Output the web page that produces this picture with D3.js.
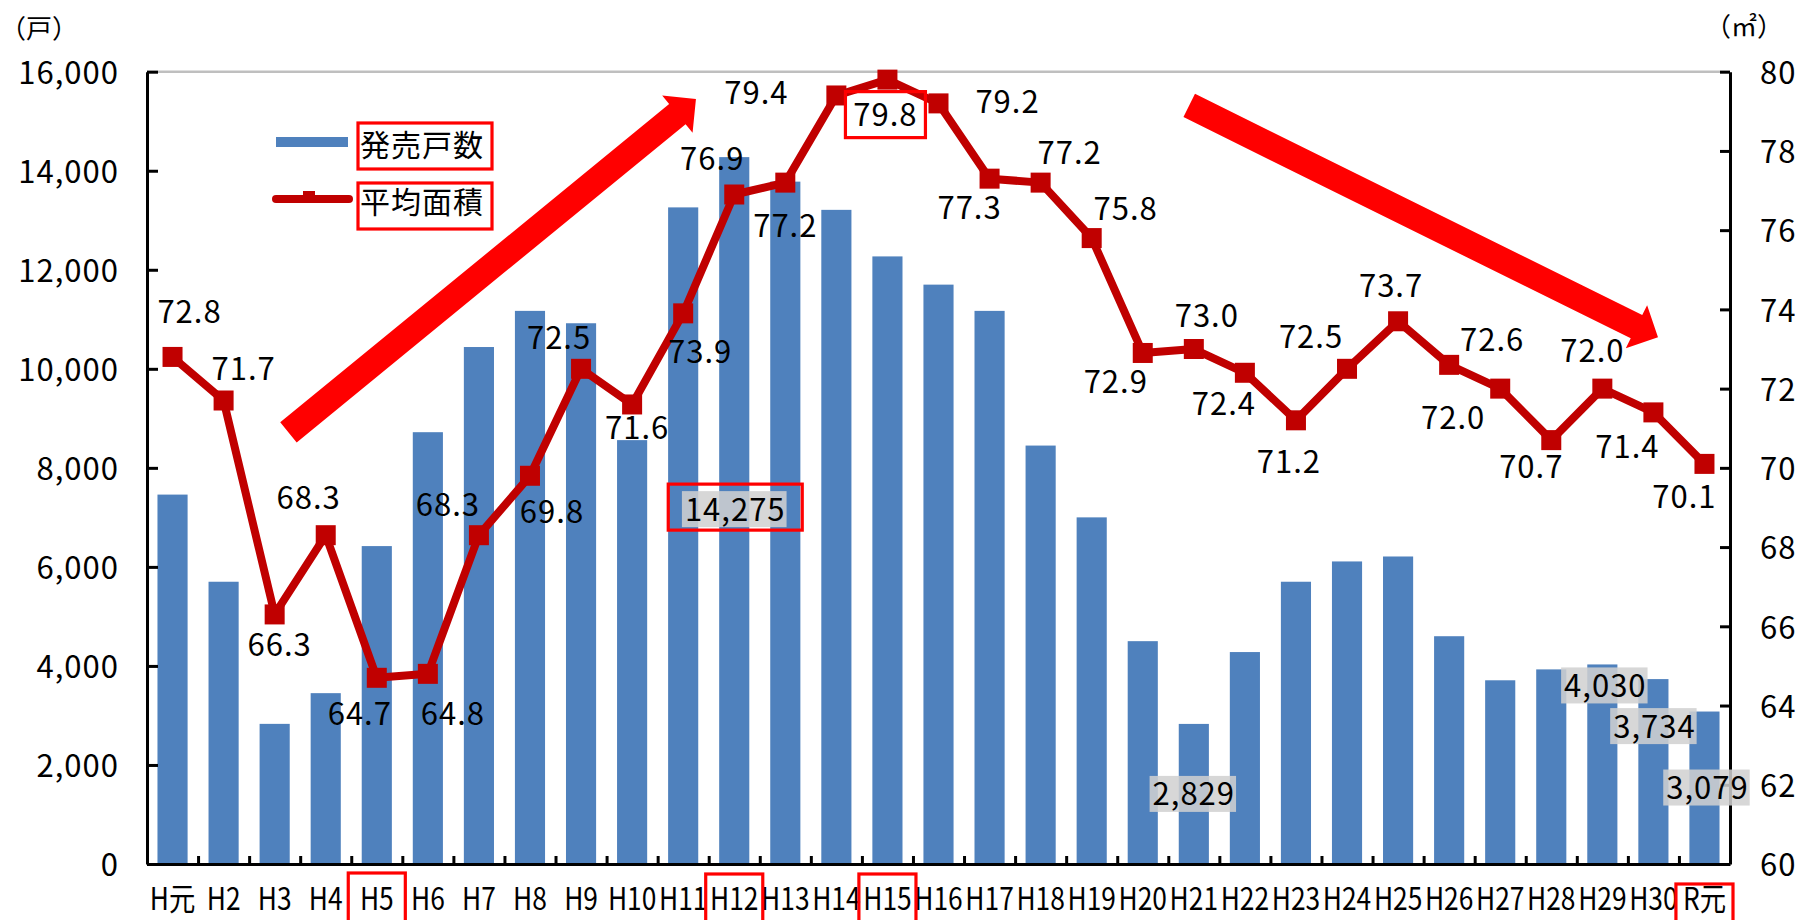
<!DOCTYPE html>
<html lang="ja">
<head>
<meta charset="utf-8">
<script src="https://cdn.jsdelivr.net/npm/d3@7"></script>
<style>
html, body { margin: 0; padding: 0; background: #fff; }
svg { display: block; font-family: "Noto Sans CJK JP", "Noto Sans", sans-serif; }
</style>
</head>
<body>
<svg id="chart" width="1809" height="920"></svg>
<script>
// ---- data -------------------------------------------------------------
const categories = ["H元","H2","H3","H4","H5","H6","H7","H8","H9","H10",
  "H11","H12","H13","H14","H15","H16","H17","H18","H19","H20",
  "H21","H22","H23","H24","H25","H26","H27","H28","H29","H30","R元"];

// 発売戸数 (戸)
const unitsSold = [7460, 5700, 2830, 3450, 6420, 8720, 10440, 11170, 10920, 8560,
  13260, 14275, 13780, 13210, 12270, 11700, 11170, 8450, 7000, 4500,
  2829, 4280, 5700, 6110, 6210, 4600, 3710, 3930, 4030, 3734, 3079];

// 平均面積 (㎡)
const avgArea = [72.8, 71.7, 66.3, 68.3, 64.7, 64.8, 68.3, 69.8, 72.5, 71.6,
  73.9, 76.9, 77.2, 79.4, 79.8, 79.2, 77.3, 77.2, 75.8, 72.9,
  73.0, 72.4, 71.2, 72.5, 73.7, 72.6, 72.0, 70.7, 72.0, 71.4, 70.1];

const countTicks = d3.range(0, 16001, 2000);
const areaTicks = d3.range(60, 81, 2);

const seriesNames = ["発売戸数", "平均面積"];

// ---- layout -----------------------------------------------------------
const W = 1809, H = 920;
const plot = { left: 147, right: 1730, top: 71.7, bottom: 864 };
const FONT = 31;
const COL = { bar: "#4f81bd", line: "#c00000", mark: "#ff0000", axis: "#000", grid: "#bfbfbf" };

// label offsets (px) from each area point to its label centre
const areaLabelOffsets = [
  [17,-45],[20,-32],[5,30],[-17,-38],[-17,36],[25,40],[-31,-31],[22,36],[-22,-31],[5,23],
  [17,38],[-22,-36],[0,43],[-80,-3],[-2,35],[69,-2],[-20,29],[29,-30],[34,-30],[-27,29],
  [13,-34],[-21,31],[-7,41],[-36,-32],[-7,-36],[43,-25],[-47,29],[-20,26],[-10,-38],[-26,34],[-20,33]
];

// bar value callouts: label centre sits `drop` px below the bar top
const barCallouts = [
  { cat: "H12", drop: 352, dx: 1, boxed: true },
  { cat: "H21", drop: 70,  dx: 0 },
  { cat: "H29", drop: 21,  dx: 3 },
  { cat: "H30", drop: 47,  dx: 1 },
  { cat: "R元", drop: 76,  dx: 3 }
];

// highlighted axis years (box top in px)
const highlightYears = [
  { cat: "H5", top: 873 }, { cat: "H12", top: 874 }, { cat: "H15", top: 874 }, { cat: "R元", top: 884 }
];

// trend arrows, ends given as [category position, 戸 value]
const trendArrows = [
  { from: [2.77, 8717], to: [10.75, 15450] },
  { from: [20.41, 15318], to: [29.59, 10636] }
];

// ---- scales -----------------------------------------------------------
const svg = d3.select("#chart");
svg.append("rect").attr("width", W).attr("height", H).attr("fill", "#fff");

const x = d3.scaleBand().domain(categories)
  .range([plot.left, plot.right]).paddingInner(0.41).paddingOuter(0.205);
const xPos = d3.scaleLinear().domain([0, categories.length]).range([plot.left, plot.right]);
const yL = d3.scaleLinear().domain([0, 16000]).range([plot.bottom, plot.top]);
const yR = d3.scaleLinear().domain([60, 80]).range([plot.bottom, plot.top]);
const cx = c => x(c) + x.bandwidth() / 2;

// plot-area top border
svg.append("line")
  .attr("x1", plot.left).attr("x2", plot.right)
  .attr("y1", plot.top).attr("y2", plot.top)
  .attr("stroke", COL.grid).attr("stroke-width", 2.5);

// ---- bars -------------------------------------------------------------
svg.append("g").selectAll("rect").data(categories).join("rect")
  .attr("x", c => x(c))
  .attr("width", x.bandwidth())
  .attr("y", (c, i) => yL(unitsSold[i]))
  .attr("height", (c, i) => plot.bottom - yL(unitsSold[i]))
  .attr("fill", COL.bar);

// ---- axes -------------------------------------------------------------
function styleAxis(g, anchor) {
  g.attr("font-family", null).attr("font-size", null);
  g.selectAll("path.domain").attr("stroke", COL.axis).attr("stroke-width", 3);
  g.selectAll(".tick line").attr("stroke", COL.axis).attr("stroke-width", 3);
  g.selectAll(".tick text").attr("font-size", FONT).attr("fill", "#000")
    .attr("dy", "0.38em").attr("letter-spacing", 1);
  if (anchor) g.selectAll(".tick text").attr("text-anchor", anchor);
}

svg.append("g").attr("transform", `translate(0,${plot.bottom})`)
  .call(d3.axisBottom(xPos).tickValues(d3.range(1, categories.length))
    .tickSizeInner(-8).tickSizeOuter(0).tickFormat(""))
  .call(g => styleAxis(g));

svg.append("g").attr("transform", `translate(${plot.left},0)`)
  .call(d3.axisLeft(yL).tickValues(countTicks).tickFormat(d3.format(","))
    .tickSizeInner(-11).tickSizeOuter(0).tickPadding(28))
  .call(g => styleAxis(g, "end"));

svg.append("g").attr("transform", `translate(${plot.right},0)`)
  .call(d3.axisRight(yR).tickValues(areaTicks).tickFormat(d3.format("d"))
    .tickSizeInner(-10).tickSizeOuter(0).tickPadding(30))
  .call(g => styleAxis(g, "start"));

// category labels (narrowed to fit each slot)
const xLab = svg.append("g");
categories.forEach(c => {
  xLab.append("text")
    .attr("transform", `translate(${cx(c)},910) scale(0.85,1)`)
    .attr("text-anchor", "middle")
    .attr("font-size", FONT)
    .text(c);
});

// boxed years
svg.append("g").selectAll("rect").data(highlightYears).join("rect")
  .attr("x", d => cx(d.cat) - x.step() / 2 - 3)
  .attr("width", x.step() + 6)
  .attr("y", d => d.top)
  .attr("height", 80)
  .attr("fill", "none").attr("stroke", COL.mark).attr("stroke-width", 3.2);

// axis unit captions
svg.append("text").attr("x", 0).attr("y", 38).attr("font-size", 26).text("（戸）");
svg.append("text").attr("x", 1705).attr("y", 36).attr("font-size", 26).text("（㎡）");

// ---- bar value callouts ----------------------------------------------
const fmtCount = d3.format(",");
barCallouts.forEach(d => {
  const i = categories.indexOf(d.cat);
  const mx = cx(d.cat) + d.dx;
  const my = yL(unitsSold[i]) + d.drop;
  const t = svg.append("text")
    .attr("x", mx).attr("y", my + 11.5)
    .attr("text-anchor", "middle")
    .attr("font-size", FONT).attr("letter-spacing", 1)
    .text(fmtCount(unitsSold[i]));
  const bb = t.node().getBBox();
  svg.insert("rect", () => t.node())
    .attr("x", bb.x - 3).attr("width", bb.width + 4)
    .attr("y", my - 18).attr("height", 36)
    .attr("fill", "rgba(208,208,208,0.86)");
  if (d.boxed) {
    svg.append("rect")
      .attr("x", mx - 67).attr("width", 134)
      .attr("y", my - 25).attr("height", 46)
      .attr("fill", "none").attr("stroke", COL.mark).attr("stroke-width", 3.2);
  }
});

// ---- area line --------------------------------------------------------
const line = d3.line().x((v, i) => cx(categories[i])).y(v => yR(v));
svg.append("path").datum(avgArea)
  .attr("d", line)
  .attr("fill", "none").attr("stroke", COL.line)
  .attr("stroke-width", 8).attr("stroke-linejoin", "round");

const MS = 20;
svg.append("g").selectAll("rect").data(avgArea).join("rect")
  .attr("x", (v, i) => cx(categories[i]) - MS / 2)
  .attr("y", v => yR(v) - MS / 2)
  .attr("width", MS).attr("height", MS)
  .attr("fill", COL.line);

const areaLab = svg.append("g");
avgArea.forEach((v, i) => {
  const [dx, dy] = areaLabelOffsets[i];
  const lx = cx(categories[i]) + dx, ly = yR(v) + dy;
  areaLab.append("text")
    .attr("x", lx).attr("y", ly + 11.5)
    .attr("text-anchor", "middle")
    .attr("font-size", FONT).attr("letter-spacing", 1)
    .text(v.toFixed(1));
  if (categories[i] === "H15") {
    areaLab.append("rect")
      .attr("x", lx - 40).attr("width", 80)
      .attr("y", ly - 23).attr("height", 46)
      .attr("fill", "none").attr("stroke", COL.mark).attr("stroke-width", 3.2);
  }
});

// ---- trend arrows -----------------------------------------------------
function arrowPoints(t, p, shaft, head, headLen) {
  const dx = p[0] - t[0], dy = p[1] - t[1], len = Math.hypot(dx, dy);
  const ux = dx / len, uy = dy / len, nx = -uy, ny = ux;
  const bx = p[0] - ux * headLen, by = p[1] - uy * headLen;
  const s = shaft / 2, h = head / 2;
  return [
    [t[0] + nx * s, t[1] + ny * s], [bx + nx * s, by + ny * s], [bx + nx * h, by + ny * h],
    p,
    [bx - nx * h, by - ny * h], [bx - nx * s, by - ny * s], [t[0] - nx * s, t[1] - ny * s]
  ];
}
svg.append("g").selectAll("polygon").data(trendArrows).join("polygon")
  .attr("points", d => arrowPoints(
      [xPos(d.from[0]), yL(d.from[1])], [xPos(d.to[0]), yL(d.to[1])], 26, 48, 24)
    .map(q => q.join(",")).join(" "))
  .attr("fill", COL.mark);

// ---- legend -----------------------------------------------------------
const lg = svg.append("g");
lg.append("rect").attr("x", 276).attr("y", 137).attr("width", 72).attr("height", 10).attr("fill", COL.bar);
lg.append("line").attr("x1", 276).attr("x2", 349).attr("y1", 199).attr("y2", 199)
  .attr("stroke", COL.line).attr("stroke-width", 8).attr("stroke-linecap", "round");
lg.append("rect").attr("x", 303).attr("y", 191).attr("width", 12).attr("height", 6).attr("fill", COL.line);
[[seriesNames[0], 144.5, 123], [seriesNames[1], 201.5, 183]].forEach(([name, cy, top]) => {
  lg.append("text").attr("x", 360).attr("y", cy + 11).attr("font-size", 30).attr("letter-spacing", 1).text(name);
  lg.append("rect").attr("x", 358).attr("y", top).attr("width", 134).attr("height", 46)
    .attr("fill", "none").attr("stroke", COL.mark).attr("stroke-width", 3.2);
});
</script>
</body>
</html>
